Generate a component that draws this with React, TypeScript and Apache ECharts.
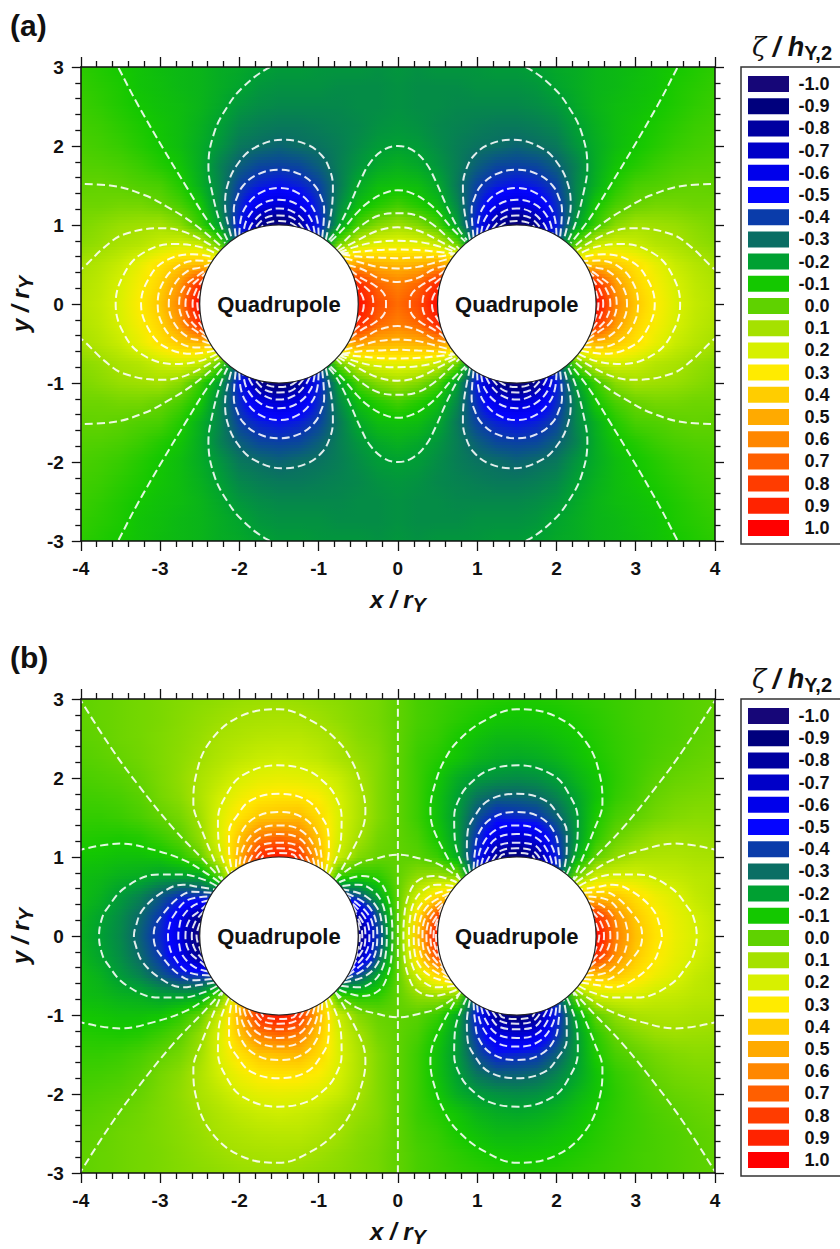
import React, { useEffect, useRef } from "react";
import * as echarts from "echarts";

const FONT = '"Liberation Sans", Arial, sans-serif';

const legendValues = ["-1.0","-0.9","-0.8","-0.7","-0.6","-0.5","-0.4","-0.3","-0.2","-0.1","0.0","0.1","0.2","0.3","0.4","0.5","0.6","0.7","0.8","0.9","1.0"];
const legendColors = [[22,6,120],[0,0,125],[0,0,160],[0,0,200],[0,0,235],[5,5,255],[10,60,170],[10,110,100],[0,160,50],[20,200,0],[95,210,0],[165,225,0],[215,240,0],[255,235,0],[255,205,0],[255,170,0],[255,135,0],[255,95,0],[255,60,0],[255,35,0],[255,0,0]];

// field: columns x = 0, 0.25 ... 4; rows y = 0, 0.25 ... 3
const fieldA = [
  [.67,.76,.97,1,1,1,0,1,1,1,1,.61,.42,.30,.21,.16,.13],
  [.62,.68,.88,.8,.6,0,-1,0,.6,.8,.86,.55,.38,.28,.20,.15,.12],
  [.46,.48,.53,.45,0,-.6,-1,-.6,0,.38,.45,.41,.33,.24,.17,.13,.10],
  [.24,.23,.17,.02,-.37,-.8,-1,-.8,-.37,0,.17,.20,.17,.13,.11,.08,.06],
  [.09,.05,-.03,-.2,-.47,-.85,-.97,-.85,-.47,-.2,-.05,.06,.10,.09,.08,.06,.04],
  [-.04,-.08,-.13,-.25,-.43,-.6,-.67,-.6,-.43,-.25,-.10,-.03,.01,.03,.03,.02,.02],
  [-.12,-.13,-.18,-.28,-.39,-.45,-.48,-.45,-.39,-.25,-.16,-.08,-.03,-.02,-.005,.005,0],
  [-.16,-.18,-.22,-.27,-.33,-.38,-.39,-.38,-.33,-.26,-.17,-.11,-.08,-.05,-.03,-.02,-.015],
  [-.2,-.21,-.24,-.27,-.29,-.3,-.32,-.3,-.28,-.22,-.17,-.13,-.105,-.08,-.055,-.04,-.03],
  [-.22,-.23,-.25,-.26,-.27,-.28,-.28,-.27,-.25,-.2,-.16,-.13,-.11,-.09,-.07,-.05,-.04],
  [-.23,-.24,-.24,-.25,-.25,-.25,-.25,-.24,-.22,-.18,-.15,-.13,-.12,-.105,-.085,-.065,-.05],
  [-.23,-.24,-.24,-.24,-.23,-.23,-.23,-.22,-.19,-.17,-.15,-.14,-.125,-.115,-.09,-.075,-.06],
  [-.22,-.23,-.22,-.22,-.22,-.21,-.21,-.195,-.18,-.17,-.15,-.14,-.13,-.115,-.10,-.085,-.07],
];
const fieldB = [
  [0,.42,.97,1,1,1,0,1,1,1,1,.62,.44,.33,.25,.2,.16],
  [0,.34,.78,.8,.6,0,-1,0,.6,.8,.86,.58,.41,.31,.24,.19,.15],
  [0,.18,.36,.45,0,-.6,-1,-.6,0,.38,.42,.42,.34,.26,.21,.16,.13],
  [0,.07,.09,.06,-.37,-.8,-1,-.8,-.37,.02,.19,.2,.2,.17,.16,.14,.13],
  [0,-.01,-.05,-.17,-.47,-.85,-.95,-.85,-.47,-.17,0,.07,.11,.12,.12,.11,.105],
  [0,-.03,-.1,-.2,-.42,-.62,-.68,-.62,-.42,-.21,-.07,.01,.05,.08,.09,.085,.08],
  [0,-.05,-.12,-.21,-.36,-.46,-.44,-.42,-.33,-.21,-.09,-.03,0,.03,.05,.06,.06],
  [0,-.05,-.12,-.2,-.29,-.33,-.33,-.31,-.26,-.19,-.115,-.06,-.03,.01,.03,.04,.045],
  [0,-.05,-.105,-.17,-.21,-.23,-.24,-.23,-.2,-.15,-.11,-.07,-.04,-.01,.01,.02,.03],
  [0,-.05,-.08,-.11,-.15,-.17,-.18,-.17,-.15,-.12,-.09,-.065,-.045,-.025,-.01,.005,.015],
  [0,-.04,-.06,-.095,-.12,-.14,-.14,-.135,-.12,-.105,-.08,-.06,-.045,-.03,-.02,-.005,.005],
  [0,-.03,-.05,-.07,-.09,-.105,-.11,-.105,-.1,-.085,-.07,-.055,-.04,-.03,-.02,-.01,0],
  [0,-.03,-.045,-.06,-.07,-.08,-.085,-.085,-.08,-.07,-.06,-.05,-.04,-.03,-.02,-.01,0],
];

type P = number[];
// contour lines, upper right quadrant; the others are its mirror images
const contoursAFree: P[][] = [
  [[1.2,3.2],[1.65,2.98],[1.95,2.75],[2.15,2.5],[2.32,2.16],[2.39,1.74],[2.34,1.4],[2.24,1.02],[2.15,.81]],
  [[3.6,3.12],[3.52,2.98],[3.29,2.54],[2.95,1.95],[2.66,1.47],[2.41,1.07],[2.18,.77]],
  [[4.1,1.52],[3.63,1.5],[3.2,1.38],[2.91,1.23],[2.58,1.02],[2.22,.72]],
  [[4.05,.4],[3.96,.47],[3.7,.72],[3.46,.88],[2.995,.96],[2.66,.9],[2.26,.68]],
  [[.91,.81],[.87,1.0],[.83,1.25],[.82,1.49],[.86,1.7],[.96,1.88],[1.15,2.02],[1.45,2.08],[1.82,1.97],[2.03,1.76],[2.15,1.5],[2.18,1.25],[2.14,1.0],[2.09,.81]],
  [[.955,.84],[.93,1.19],[.97,1.35],[1.05,1.5],[1.23,1.64],[1.5,1.7],[1.77,1.64],[1.95,1.5],[2.03,1.35],[2.07,1.19],[2.045,.84]],
];
const contoursAHalf: P[][] = [
  [[1.5,1.47],[1.27,1.41],[1.1,1.26],[1.02,1.08],[1.0,.866]],
  [[1.5,1.32],[1.27,1.26],[1.1,1.08],[1.05,.89]],
  [[1.5,1.21],[1.31,1.16],[1.17,1.03],[1.11,.92]],
  [[1.5,1.12],[1.33,1.09],[1.19,.95]],
  [[1.5,1.05],[1.36,1.03],[1.275,.974]],
];
const contoursACentre: P[][] = [
  [[0,.28],[.25,.33],[.45,.44],[.63,.49]],
  [[0,.45],[.25,.47],[.45,.52],[.67,.58]],
  [[0,.58],[.25,.59],[.5,.6],[.7,.63]],
  [[0,.69],[.3,.68],[.5,.66],[.72,.64]],
  [[0,.8],[.3,.78],[.55,.72],[.74,.65]],
  [[0,.97],[.25,.93],[.5,.81],[.76,.67]],
  [[0,1.15],[.24,1.12],[.45,1.0],[.64,.83],[.78,.69]],
  [[0,1.44],[.18,1.4],[.37,1.29],[.52,1.15],[.68,.96],[.85,.79]],
  [[0,2.0],[.18,1.95],[.35,1.79],[.47,1.57],[.62,1.23],[.77,.94],[.87,.81]],
];
const contoursASide: P[][] = [
  [[.15,0],[.17,.12],[.3,.24],[.45,.32],[.6,.43]],
  [[.31,0],[.33,.12],[.42,.22],[.56,.34]],
  [[.43,0],[.44,.08],[.53,.23]],
  [[2.53,0],[2.505,.14],[2.47,.225]],
  [[2.59,0],[2.544,.18],[2.45,.31]],
  [[2.68,0],[2.62,.2],[2.52,.31],[2.42,.39]],
  [[2.76,0],[2.7,.21],[2.51,.37],[2.39,.45]],
  [[2.89,0],[2.83,.23],[2.65,.42],[2.5,.46],[2.37,.5]],
  [[3.03,0],[2.97,.26],[2.79,.47],[2.53,.55],[2.34,.545]],
  [[3.24,0],[3.16,.29],[2.96,.53],[2.59,.63],[2.31,.59]],
  [[3.56,0],[3.47,.35],[3.24,.63],[2.82,.76],[2.49,.72],[2.28,.63]],
];
const contoursBFree: P[][] = [
  [[4.03,3.03],[3.63,2.4],[3.29,1.93],[2.83,1.36],[2.45,.96],[2.22,.71]],
  [[4.05,1.08],[3.5,1.17],[3.08,1.09],[2.7,.96],[2.41,.79],[2.24,.67]],
  [[.79,.71],[.47,1.3],[.41,1.59],[.47,1.93],[.6,2.25],[.77,2.48],[1.1,2.73],[1.5,2.87],[1.99,2.78],[2.37,2.46],[2.55,2.02],[2.58,1.68],[2.49,1.38],[2.21,.71]],
  [[.87,.78],[.72,1.2],[.71,1.51],[.78,1.75],[.9,1.92],[1.15,2.1],[1.52,2.16],[1.95,2.04],[2.15,1.81],[2.27,1.47],[2.26,1.17],[2.13,.78]],
  [[.91,.81],[.87,1.09],[.88,1.32],[.97,1.52],[1.15,1.72],[1.5,1.8],[1.85,1.72],[2.03,1.52],[2.13,1.32],[2.13,1.09],[2.09,.81]],
];
const contoursBHalf: P[][] = [
  [[1.5,1.57],[1.2,1.5],[1.02,1.3],[.97,1.05],[.955,.84]],
  [[1.5,1.4],[1.23,1.34],[1.05,1.12],[1.0,.866]],
  [[1.5,1.29],[1.25,1.24],[1.1,1.05],[1.05,.89]],
  [[1.5,1.18],[1.28,1.15],[1.17,1.03],[1.11,.92]],
  [[1.5,1.11],[1.3,1.08],[1.19,.95]],
  [[1.5,1.05],[1.32,1.03],[1.275,.974]],
];
const contoursBCentre: P[][] = [
  [[0,1.03],[.28,.98],[.49,.92],[.7,.79],[.79,.71]],
];
const contoursBSide: P[][] = [
  [[.07,0],[.08,.25],[.13,.5],[.24,.69],[.45,.76],[.74,.68]],
  [[.14,0],[.15,.2],[.2,.42],[.32,.58],[.5,.65],[.72,.63]],
  [[.2,0],[.21,.2],[.27,.37],[.4,.5],[.55,.56],[.69,.59]],
  [[.26,0],[.27,.15],[.33,.32],[.45,.44],[.66,.545]],
  [[.31,0],[.32,.15],[.38,.28],[.5,.4],[.634,.5]],
  [[.36,0],[.37,.12],[.42,.24],[.5,.34],[.61,.45]],
  [[.41,0],[.42,.12],[.47,.22],[.58,.39]],
  [[.45,0],[.46,.1],[.49,.19],[.55,.31]],
  [[.48,0],[.49,.1],[.526,.225]],
  [[2.54,0],[2.52,.1],[2.47,.225]],
  [[2.6,0],[2.56,.17],[2.45,.31]],
  [[2.68,0],[2.63,.2],[2.5,.32],[2.42,.39]],
  [[2.77,0],[2.76,.1],[2.72,.24],[2.57,.39],[2.39,.45]],
  [[2.9,0],[2.89,.1],[2.84,.24],[2.64,.46],[2.37,.5]],
  [[3.08,0],[3.07,.1],[2.97,.27],[2.76,.49],[2.59,.56],[2.34,.545]],
  [[3.33,0],[3.31,.11],[3.22,.33],[2.96,.56],[2.71,.65],[2.51,.62],[2.31,.59]],
  [[3.77,0],[3.74,.2],[3.68,.33],[3.43,.62],[3.01,.78],[2.72,.78],[2.44,.71],[2.28,.63]],
];
const contourBAxis: P[] = [[0,-3],[0,3]];

const quadrupoleX = [-1.5, 1.5];
const quadrupoleLabels = ["Quadrupole", "Quadrupole"];

const colorOf = (v: number) => {
  const t = (Math.max(-1, Math.min(1, v)) + 1) * 10;
  const i = Math.min(19, Math.floor(t));
  const f = t - i;
  const a = legendColors[i], b = legendColors[i + 1];
  return `rgb(${Math.round(a[0] + (b[0] - a[0]) * f)},${Math.round(a[1] + (b[1] - a[1]) * f)},${Math.round(a[2] + (b[2] - a[2]) * f)})`;
};
const fieldAt = (table: number[][], odd: boolean, x: number, y: number) => {
  const ax = Math.abs(x) / 0.25, ay = Math.abs(y) / 0.25;
  const i = Math.min(15, Math.floor(ax)), j = Math.min(11, Math.floor(ay));
  const fx = ax - i, fy = ay - j;
  const v = (table[j][i] * (1 - fx) + table[j][i + 1] * fx) * (1 - fy) + (table[j + 1][i] * (1 - fx) + table[j + 1][i + 1] * fx) * fy;
  return odd && x < 0 ? -v : v;
};

const rev = (p: P[]) => [...p].reverse();
const mx = (p: P[]) => p.map(([x, y]) => [-x, y]);
const my = (p: P[]) => p.map(([x, y]) => [x, -y]);
const withBreaks = (paths: P[][]) => {
  const out: P[] = [];
  paths.forEach((p) => { out.push(...p, [NaN, NaN]); });
  return out;
};
const buildContours = (free: P[][], half: P[][], centre: P[][], side: P[][], extra: P[][]) => {
  const paths: P[][] = [...extra];
  const four = (p: P[]) => { paths.push(p, mx(p), my(p), mx(my(p))); };
  free.forEach(four);
  half.forEach((h) => {
    const full = [...h.slice(1).reverse().map(([x, y]) => [x, y]), h[0], ...h.slice(1).map(([x, y]) => [3 - x, y])];
    four(full);
  });
  centre.forEach((c) => {
    const full = [...rev(mx(c)), ...c.slice(1)];
    paths.push(full, my(full));
  });
  side.forEach((c) => {
    const full = [...rev(my(c)), ...c.slice(1)];
    paths.push(full, mx(full));
  });
  return withBreaks(paths);
};

const AXIS = "#111";
const nameRich = {
  i: { fontFamily: FONT, fontSize: 24, fontWeight: "bold", fontStyle: "italic", color: AXIS },
  s: { fontFamily: FONT, fontSize: 20, fontWeight: "bold", fontStyle: "italic", color: AXIS, padding: [12, 0, 0, 0] },
};
const makeX = (grid: number, top: boolean) => ({
  type: "value", gridIndex: grid, min: -4, max: 4, interval: 1, position: top ? "top" : "bottom", z: 5,
  axisLine: { show: true, onZero: false, lineStyle: { color: AXIS, width: 1.5 } },
  axisTick: { show: true, length: 10, lineStyle: { color: AXIS, width: 1.3 } },
  minorTick: { show: true, splitNumber: 5, length: 6, lineStyle: { color: AXIS, width: 1.3 } },
  splitLine: { show: false },
  axisLabel: { show: !top, margin: 18, fontSize: 19, fontWeight: "bold", color: AXIS, fontFamily: FONT },
  name: top ? "" : "{i|x / r}{s|Y}", nameLocation: "middle", nameGap: 42,
  nameTextStyle: { rich: nameRich },
});
const makeY = (grid: number, right: boolean) => ({
  type: "value", gridIndex: grid, min: -3, max: 3, interval: 1, position: right ? "right" : "left", z: 5,
  axisLine: { show: true, onZero: false, lineStyle: { color: AXIS, width: 1.5 } },
  axisTick: { show: true, length: 9, lineStyle: { color: AXIS, width: 1.3 } },
  minorTick: { show: true, splitNumber: 5, length: 5.5, lineStyle: { color: AXIS, width: 1.3 } },
  splitLine: { show: false },
  axisLabel: { show: !right, margin: 17, fontSize: 19, fontWeight: "bold", color: AXIS, fontFamily: FONT },
  name: right ? "" : "{i|y / r}{s|Y}", nameLocation: "middle", nameGap: 44, nameRotate: 90,
  nameTextStyle: { rich: nameRich },
});

const rowsY: number[][] = [];
for (let k = 0; k < 158; k++) rowsY.push([3 - (k * 6) / 158, 3 - ((k + 1) * 6) / 158]);

const heatSeries = (axis: number, table: number[][], odd: boolean) => ({
  type: "custom", xAxisIndex: axis, yAxisIndex: axis, z: 1, silent: true, data: rowsY,
  encode: { y: [0, 1] },
  renderItem: (_: any, api: any) => {
    const yTop = api.value(0), yBot = api.value(1);
    const a = api.coord([-4, yTop]), b = api.coord([4, yBot]);
    const top = Math.round(a[1]), bot = Math.round(b[1]);
    const mid = (yTop + yBot) / 2;
    const stops = [];
    for (let s = 0; s <= 64; s++) {
      const x = -4 + s / 8;
      stops.push({ offset: s / 64, color: colorOf(fieldAt(table, odd, x, mid)) });
    }
    return {
      type: "rect",
      shape: { x: a[0], y: top, width: b[0] - a[0], height: bot - top },
      style: { fill: new echarts.graphic.LinearGradient(0, 0, 1, 0, stops) },
    };
  },
});
const lineSeries = (axis: number, data: P[]) => ({
  type: "line", xAxisIndex: axis, yAxisIndex: axis, z: 2, silent: true, data,
  showSymbol: false, smooth: 0.4, connectNulls: false, clip: true,
  lineStyle: { color: "rgba(255,255,255,0.88)", width: 2, type: [8, 4] },
});
const circleSeries = (axis: number) => ({
  type: "custom", xAxisIndex: axis, yAxisIndex: axis, z: 3, silent: true,
  data: quadrupoleX.map((x) => [x, 0]), encode: { x: 0, y: 1 },
  renderItem: (p: any, api: any) => {
    const c = api.coord([api.value(0), api.value(1)]);
    const s = api.size([1, 1]);
    return {
      type: "group",
      children: [
        { type: "ellipse", shape: { cx: c[0], cy: c[1], rx: s[0], ry: s[1] }, style: { fill: "#fff", stroke: "#222", lineWidth: 1.2 } },
        { type: "text", style: { text: quadrupoleLabels[p.dataIndex], x: c[0], y: c[1], align: "center", verticalAlign: "middle", fontFamily: FONT, fontWeight: "bold", fontSize: 22, fill: "#111" } },
      ],
    };
  },
});

const legendGraphic = (dy: number, tag: string) => {
  const items: any[] = [
    { type: "rect", shape: { x: 741, y: 67 + dy, width: 120, height: 477 }, style: { fill: "#fff", stroke: "#333", lineWidth: 1.5 } },
    {
      type: "text", x: 752, y: 47 + dy,
      style: {
        text: "{z|ζ}  {t|/ h}{s|Y,2}", verticalAlign: "middle",
        rich: {
          z: { fontFamily: '"DejaVu Serif", serif', fontStyle: "italic", fontSize: 26, fill: "#111" },
          t: { fontFamily: FONT, fontStyle: "italic", fontWeight: "bold", fontSize: 27, fill: "#111" },
          s: { fontFamily: FONT, fontWeight: "bold", fontSize: 20, fill: "#111", padding: [12, 0, 0, 0] },
        },
      },
    },
    { type: "text", x: 10, y: 25 + dy, style: { text: tag, verticalAlign: "middle", fontFamily: FONT, fontWeight: "bold", fontSize: 30, fill: "#111" } },
  ];
  legendValues.forEach((t, i) => {
    const c = legendColors[i];
    const y = 76 + dy + i * 22.2;
    items.push({ type: "rect", shape: { x: 748, y, width: 41, height: 16 }, style: { fill: `rgb(${c[0]},${c[1]},${c[2]})` } });
    items.push({ type: "text", x: 829.5, y: y + 8, style: { text: t, align: "right", verticalAlign: "middle", fontFamily: FONT, fontWeight: "bold", fontSize: 18, fill: "#111" } });
  });
  return items;
};

export default function App() {
  const ref = useRef<HTMLDivElement>(null);
  useEffect(() => {
    document.body.style.margin = "0";
    const chart = echarts.init(ref.current!, undefined, { renderer: "svg" });
    chart.setOption({
      animation: false,
      textStyle: { fontFamily: FONT },
      grid: [
        { left: 80, top: 67, width: 635, height: 474 },
        { left: 80, top: 699, width: 635, height: 474 },
      ],
      xAxis: [makeX(0, false), makeX(0, true), makeX(1, false), makeX(1, true)],
      yAxis: [makeY(0, false), makeY(0, true), makeY(1, false), makeY(1, true)],
      series: [
        heatSeries(0, fieldA, false),
        lineSeries(0, buildContours(contoursAFree, contoursAHalf, contoursACentre, contoursASide, [])),
        circleSeries(0),
        heatSeries(2, fieldB, true),
        lineSeries(2, buildContours(contoursBFree, contoursBHalf, contoursBCentre, contoursBSide, [contourBAxis])),
        circleSeries(2),
      ],
      graphic: [...legendGraphic(0, "(a)"), ...legendGraphic(632, "(b)")],
    });
    return () => chart.dispose();
  }, []);
  return <div ref={ref} style={{ width: 840, height: 1249, overflow: "hidden" }} />;
}
